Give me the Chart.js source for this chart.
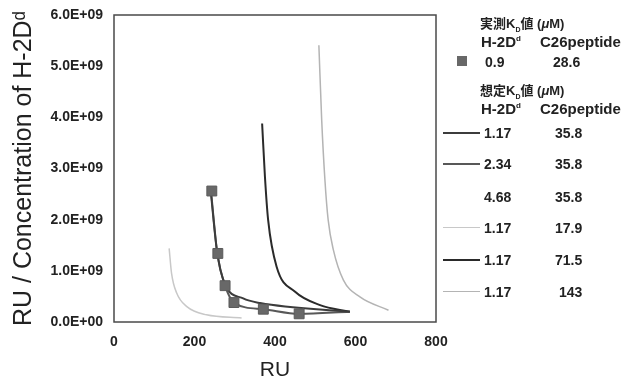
<!DOCTYPE html>
<html>
<head>
<meta charset="utf-8">
<script src="https://cdn.jsdelivr.net/npm/chart.js@4.4.1/dist/chart.umd.min.js"></script>
<style>
  html, body { margin: 0; padding: 0; background: #fff; }
  #wrap { position: relative; width: 624px; height: 381px; }
  canvas { position: absolute; left: 0; top: 0; }
  .lg { position: absolute; font-family: "Liberation Sans", Arial, sans-serif; font-weight: bold; font-size: 14px; color: #222; white-space: nowrap; line-height: 16px; }
  .jp { font-family: "Noto Sans CJK JP", sans-serif; font-weight: bold; }
  .hd { font-size: 13px; }
  .hd2 { font-size: 15px; }
  sub { font-size: 7px; line-height: 0; }
  sup { font-size: 8px; line-height: 0; }
  .sw { position: absolute; height: 0; width: 37px; }
  .sq { position: absolute; width: 10px; height: 10px; }
</style>
</head>
<body>
<div id="wrap">
  <canvas id="c" width="624" height="381"></canvas>
</div>
<script>
// ---- data ----
const xTicks = [0, 200, 400, 600, 800];
const yTickLabels = ['0.0E+00', '1.0E+09', '2.0E+09', '3.0E+09', '4.0E+09', '5.0E+09', '6.0E+09'];

// measured points (RU, RU/conc)
const measRU   = [243, 258, 276, 298, 371, 460];
const measRatio = [2.56e9, 1.34e9, 0.71e9, 0.38e9, 0.25e9, 0.16e9];

// simulated curves
const simA_RU = [240, 256, 275, 321, 363, 586];             // 1.17 / 35.8
const simA_Y  = [2.58e9, 1.38e9, 0.75e9, 0.46e9, 0.37e9, 0.20e9];
const simB_RU = [241, 257, 276, 298, 371, 460, 586];        // 2.34 / 35.8
const simB_Y  = [2.56e9, 1.32e9, 0.71e9, 0.38e9, 0.25e9, 0.16e9, 0.20e9];
const simC_RU = [242, 257, 276, 298, 371, 460, 586];        // 4.68 / 35.8
const simC_Y  = [2.55e9, 1.33e9, 0.71e9, 0.38e9, 0.25e9, 0.16e9, 0.20e9];
const simD_RU = [137, 143, 156, 181, 230, 317];             // 1.17 / 17.9
const simD_Y  = [1.44e9, 0.95e9, 0.56e9, 0.30e9, 0.14e9, 0.08e9];
const simE_RU = [368, 375, 383, 404, 450, 512, 586];        // 1.17 / 71.5
const simE_Y  = [3.88e9, 2.84e9, 1.99e9, 1.08e9, 0.59e9, 0.33e9, 0.20e9];
const simF_RU = [509, 516, 524, 532, 545, 570, 611, 682];   // 1.17 / 143
const simF_Y  = [5.41e9, 3.95e9, 2.78e9, 2.00e9, 1.41e9, 0.82e9, 0.49e9, 0.23e9];

const legendH2D = ['1.17', '2.34', '4.68', '1.17', '1.17', '1.17'];
const legendC26 = ['35.8', '35.8', '35.8', '17.9', '71.5', '143'];
const measH2D = '0.9', measC26 = '28.6';

const curveColors = ['#3c3c3c', '#585858', '#ffffff', '#c8c8c8', '#2a2a2a', '#b4b4b4'];
const curveWidths = [2, 2, 1, 1.5, 2, 1.5];

function pts(xs, ys) { return xs.map((x, i) => ({ x: x, y: ys[i] })); }

const curves = [[simA_RU, simA_Y], [simB_RU, simB_Y], [simC_RU, simC_Y], [simD_RU, simD_Y], [simE_RU, simE_Y], [simF_RU, simF_Y]];

const datasets = [{
  label: 'measured',
  data: pts(measRU, measRatio),
  showLine: false,
  pointStyle: 'rect',
  pointRadius: 7,
  pointHoverRadius: 7,
  backgroundColor: '#686868',
  borderColor: '#5a5a5a',
  borderWidth: 1
}];
curves.forEach((c, i) => {
  datasets.push({
    label: legendH2D[i] + ' / ' + legendC26[i],
    data: pts(c[0], c[1]),
    showLine: true,
    borderColor: curveColors[i],
    borderWidth: curveWidths[i],
    pointRadius: 0,
    cubicInterpolationMode: 'monotone',
    order: i === 2 ? 10 : 0
  });
});

const frame = {
  id: 'frame',
  beforeDatasetsDraw(chart) {
    const a = chart.chartArea, ctx = chart.ctx;
    ctx.save();
    ctx.strokeStyle = '#4a4a4a';
    ctx.lineWidth = 1.5;
    ctx.strokeRect(a.left, a.top, a.right - a.left, a.bottom - a.top);
    ctx.restore();
  }
};

const tickFont = { family: 'Liberation Sans', size: 14, weight: 'bold' };

const chart = new Chart(document.getElementById('c'), {
  type: 'scatter',
  data: { datasets: datasets },
  options: {
    responsive: false,
    animation: false,
    devicePixelRatio: 1,
    layout: { padding: { left: 0, right: 188, top: 15, bottom: 0 } },
    plugins: { legend: { display: false }, tooltip: { enabled: false } },
    scales: {
      x: {
        type: 'linear', min: 0, max: 800,
        afterBuildTicks(s) { s.ticks = xTicks.map(v => ({ value: v })); },
        afterFit(s) { s.height = 59; s.paddingLeft = 0; s.paddingRight = 0; },
        grid: { display: false, drawTicks: false },
        border: { display: false },
        ticks: { padding: 12, color: '#222', font: tickFont },
        title: { display: true, text: 'RU', color: '#222', font: { family: 'Liberation Sans', size: 21, lineHeight: 1 }, padding: { top: 0, bottom: 0 } }
      },
      y: {
        type: 'linear', min: 0, max: 6e9,
        afterBuildTicks(s) { s.ticks = yTickLabels.map((t, i) => ({ value: i * 1e9 })); },
        afterFit(s) { s.width = 114; s.paddingTop = 0; s.paddingBottom = 0; },
        grid: { display: false, drawTicks: false },
        border: { display: false },
        ticks: { padding: 11, color: '#222', font: tickFont, callback: (v, i) => yTickLabels[i] },
        title: { display: true, text: 'RU / Concentration of H-2D\u1D48', color: '#222', font: { family: 'Liberation Sans', size: 25, lineHeight: 1.15 }, padding: { top: 9.6, bottom: 0 } }
      }
    }
  },
  plugins: [frame]
});

// ---- HTML legend ----
const wrap = document.getElementById('wrap');
function add(html, x, y, cls) {
  const d = document.createElement('div');
  d.className = 'lg ' + (cls || '');
  d.innerHTML = html;
  d.style.left = x + 'px';
  d.style.top = (y - 8) + 'px';
  wrap.appendChild(d);
  return d;
}
function addRight(html, xr, y) {
  const d = add(html, 0, y);
  d.style.left = (xr - d.offsetWidth) + 'px';
}
add('<span class="jp">実測</span>K<sub>D</sub><span class="jp">値</span> (<i>μ</i>M)', 480, 23, 'hd');
add('H-2D<sup>d</sup>', 481, 42, 'hd2');
add('C26peptide', 540, 42, 'hd2');
const sq = document.createElement('div');
sq.className = 'sq';
sq.style.left = '457px'; sq.style.top = '56px';
sq.style.background = '#686868';
wrap.appendChild(sq);
add(measH2D, 485, 62);
add(measC26, 553, 62);
add('<span class="jp">想定</span>K<sub>D</sub><span class="jp">値</span> (<i>μ</i>M)', 480, 90, 'hd');
add('H-2D<sup>d</sup>', 481, 109, 'hd2');
add('C26peptide', 540, 109, 'hd2');
const rowsY = [133, 164, 197, 228, 260, 292];
rowsY.forEach((y, i) => {
  const s = document.createElement('div');
  s.className = 'sw';
  s.style.left = '443px';
  s.style.top = (y - 1) + 'px';
  s.style.borderTop = Math.max(1, curveWidths[i]) + 'px solid ' + curveColors[i];
  wrap.appendChild(s);
  add(legendH2D[i], 484, y);
  addRight(legendC26[i], 582, y);
});
</script>
</body>
</html>
